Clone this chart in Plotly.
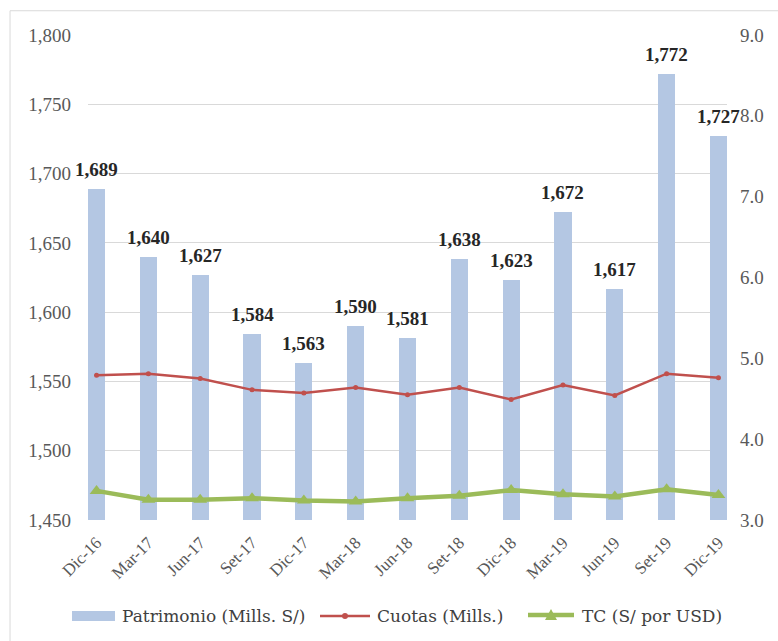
import plotly.graph_objects as go

categories = ["Dic-16", "Mar-17", "Jun-17", "Set-17", "Dic-17", "Mar-18", "Jun-18",
              "Set-18", "Dic-18", "Mar-19", "Jun-19", "Set-19", "Dic-19"]
patrimonio = [1689, 1640, 1627, 1584, 1563, 1590, 1581, 1638, 1623, 1672, 1617, 1772, 1727]
cuotas = [4.79, 4.81, 4.75, 4.61, 4.57, 4.64, 4.55, 4.64, 4.49, 4.67, 4.54, 4.81, 4.76]
tc = [3.36, 3.25, 3.25, 3.27, 3.24, 3.23, 3.27, 3.30, 3.37, 3.32, 3.29, 3.38, 3.31]
series_names = ["Patrimonio (Mills. S/)", "Cuotas (Mills.)", "TC (S/ por USD)"]

FONT = "Liberation Serif"
LEG_FONT = "DejaVu Serif"
BAR_COLOR = "#B4C7E3"
RED = "#C0504D"
GREEN = "#9BBB59"
xs = list(range(len(categories)))

W, H = 778, 641
ML, MR, MT, MB = 88, 51, 35, 121
PW, PH = W - ML - MR, H - MT - MB


def px(x):
    return (x - ML) / PW


def py(y):
    return (H - MB - y) / PH


fig = go.Figure()
fig.add_trace(go.Bar(
    x=xs, y=patrimonio, name=series_names[0],
    marker=dict(color=BAR_COLOR, line=dict(width=0)),
    width=0.33,
))
fig.add_trace(go.Scatter(
    x=xs, y=cuotas, name=series_names[1], yaxis="y2", mode="lines+markers",
    line=dict(color=RED, width=2.5), marker=dict(size=5, color=RED),
))
fig.add_trace(go.Scatter(
    x=xs, y=tc, name=series_names[2], yaxis="y2", mode="lines+markers",
    line=dict(color=GREEN, width=4.5), marker=dict(symbol="triangle-up", size=12, color=GREEN),
))

annotations = []
for xi, v in zip(xs, patrimonio):
    annotations.append(dict(x=xi, y=v, xref="x", yref="y", text=f"<b>{v:,}</b>",
                            showarrow=False, xanchor="center", yanchor="bottom", yshift=7,
                            font=dict(family=FONT, size=19, color="#262626")))

LY = 616
shapes = [
    dict(type="rect", xref="paper", yref="paper", x0=-0.122, x1=1.2, y0=-0.3, y1=1.05,
         line=dict(color="#D9D9D9", width=1), layer="below"),
    dict(type="rect", xref="paper", yref="paper", x0=px(72), x1=px(115), y0=py(621), y1=py(611),
         fillcolor=BAR_COLOR, line=dict(width=0)),
    dict(type="line", xref="paper", yref="paper", x0=px(320), x1=px(370), y0=py(LY), y1=py(LY),
         line=dict(color=RED, width=2.5)),
    dict(type="circle", xref="paper", yref="paper", x0=px(342), x1=px(348), y0=py(LY + 3), y1=py(LY - 3),
         fillcolor=RED, line=dict(width=0)),
    dict(type="line", xref="paper", yref="paper", x0=px(528), x1=px(574), y0=py(LY - 1), y1=py(LY - 1),
         line=dict(color=GREEN, width=4.5)),
    dict(type="path", xref="paper", yref="paper",
         path=f"M {px(545)} {py(LY + 4)} L {px(557)} {py(LY + 4)} L {px(551)} {py(LY - 7)} Z",
         fillcolor=GREEN, line=dict(width=0)),
]
for name, x0 in zip(series_names, [120, 375, 580]):
    annotations.append(dict(text=name, xref="paper", yref="paper", x=px(x0), y=py(LY),
                            xanchor="left", yanchor="middle", showarrow=False,
                            font=dict(family=LEG_FONT, size=17, color="#404040")))

fig.update_layout(
    width=W, height=H,
    margin=dict(l=ML, r=MR, t=MT, b=MB),
    paper_bgcolor="white", plot_bgcolor="white",
    font=dict(family=FONT, size=19, color="#595959"),
    bargap=0,
    showlegend=False,
    xaxis=dict(
        range=[-0.165, 12.165], tickmode="array", tickvals=xs, ticktext=categories,
        tickangle=-45, showgrid=False, zeroline=False, showline=False,
        tickfont=dict(family=FONT, size=17, color="#595959"),
        ticks="outside", ticklen=5, tickcolor="rgba(0,0,0,0)",
    ),
    yaxis=dict(
        range=[1450, 1800], dtick=50, tickformat=",", showgrid=True, gridcolor="#D9D9D9",
        gridwidth=1, zeroline=False, showline=False, ticks="", ticklabelstandoff=16,
        tickfont=dict(family=FONT, size=19, color="#595959"),
    ),
    yaxis2=dict(
        range=[3.0, 9.0], dtick=1, tickformat=".1f", overlaying="y", side="right",
        showgrid=False, zeroline=False, showline=False, ticks="", ticklabelstandoff=12,
        tickfont=dict(family=FONT, size=19, color="#595959"),
    ),
    shapes=shapes,
    annotations=annotations,
)

fig.write_html("out.html")
